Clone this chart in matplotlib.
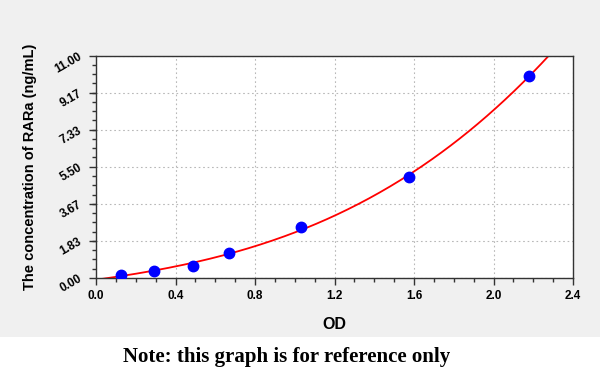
import numpy as np
import matplotlib
matplotlib.use("Agg")
import matplotlib.pyplot as plt
from matplotlib.patches import Rectangle
from matplotlib.ticker import MultipleLocator, FixedLocator

od = [0.124, 0.292, 0.49, 0.671, 1.03, 1.573, 2.18]
conc = [0.15, 0.36, 0.59, 1.25, 2.51, 5.0, 10.0]
y_ticks = [0.00, 1.83, 3.67, 5.50, 7.33, 9.17, 11.00]
x_ticks = [0.0, 0.4, 0.8, 1.2, 1.6, 2.0, 2.4]

plt.rcParams['font.family'] = ['Liberation Sans', 'DejaVu Sans']

fig = plt.figure(figsize=(6, 3.78), dpi=100)
fig.patch.set_facecolor("white")
fig.add_artist(Rectangle((0, 41/378), 1, 1 - 41/378, transform=fig.transFigure,
                         facecolor="#f0f0f0", edgecolor="none", zorder=-10))

ax = fig.add_axes([96/600, 1 - 278/378, (573-96)/600, (278-55.5)/378])
ax.set_facecolor("white")

coef = np.polyfit(od, conc, 3)
xc = np.linspace(0.03, 2.3, 300)
yc = np.polyval(coef, xc)
ax.plot(xc, yc, color="#ff0000", lw=1.3, zorder=2, clip_on=True)
ax.plot(od, conc, "o", color="#0000ff", ms=7.5, zorder=3)

ax.set_xlim(0, 2.4)
ax.set_ylim(0, 11)
ax.xaxis.set_major_locator(FixedLocator(x_ticks))
ax.xaxis.set_minor_locator(MultipleLocator(0.1))
ax.yaxis.set_major_locator(FixedLocator(y_ticks))
ax.yaxis.set_minor_locator(MultipleLocator(11/24))
ax.set_xticklabels([f"{v:.1f}" for v in x_ticks], fontsize=8.5, fontweight="bold")
ax.set_yticklabels([f"{v:.2f}" for v in y_ticks], fontsize=8.5, fontweight="bold",
                   rotation=30, ha="right", va="center", rotation_mode="anchor")
ax.tick_params(which="major", direction="out", length=5, width=1, color="#333333")
ax.tick_params(which="minor", direction="out", length=3, width=1, color="#333333")
ax.tick_params(axis="y", which="major", pad=6)
ax.grid(True, which="major", linestyle=(0, (1.5, 2.5)), color="#b8b8b8", lw=0.8)
for s in ax.spines.values():
    s.set_color("#333333")
    s.set_linewidth(1.0)

ax.set_xlabel("OD", fontsize=11.5, fontweight="bold", labelpad=11)
ax.set_ylabel("The concentration of RARa (ng/mL)", fontsize=10.5, fontweight="bold", labelpad=11)

fig.text(287/600, 1 - 357/378, "Note: this graph is for reference only",
         fontsize=15, fontweight="bold", family="Liberation Serif",
         ha="center", va="center")

fig.savefig("out.png", dpi=100)
